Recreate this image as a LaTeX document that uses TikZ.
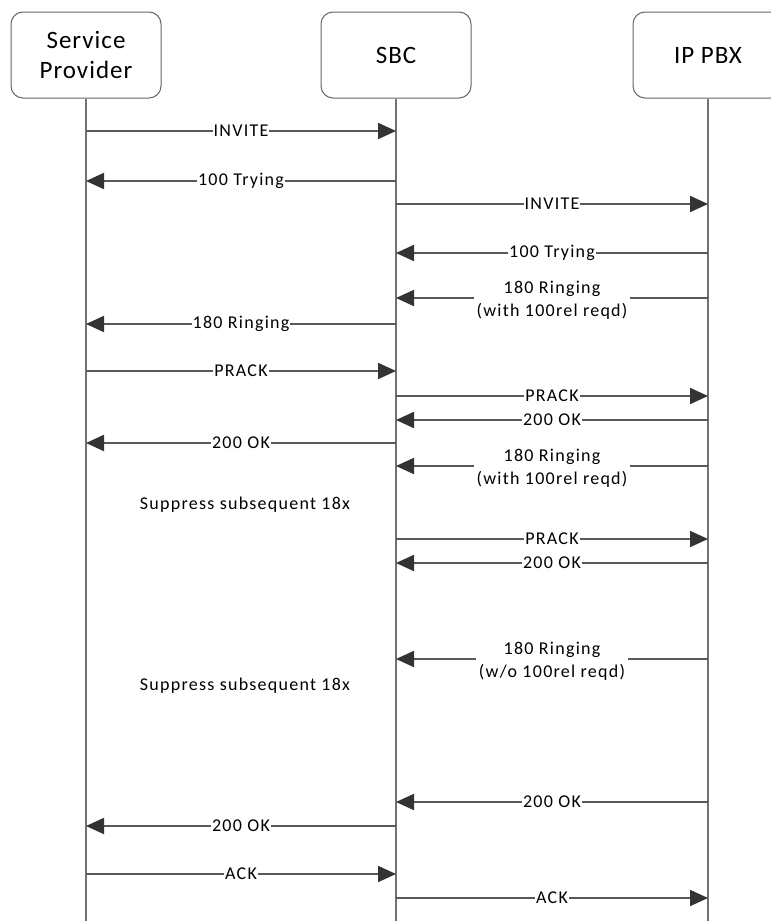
\documentclass[tikz,border=0pt]{standalone}
\usepackage{fontspec}
\setmainfont{Carlito}
\usetikzlibrary{arrows.meta}

\tikzset{
  actor/.style={draw=black!60, line width=1pt, rounded corners=12pt, fill=white,
    minimum width=150pt, minimum height=86pt, align=center,
    font=\fontsize{25}{30}\selectfont\addfontfeatures{LetterSpace=4}},
  lifeline/.style={draw=black!55, line width=2pt},
  msg/.style={draw=black!65, line width=2pt,
    -{Triangle[length=18pt,width=16pt,color=black!80]}},
  lbl/.style={fill=white, inner xsep=1pt, inner ysep=1pt, text=black,
    font=\fontsize{18}{22}\selectfont\addfontfeatures{LetterSpace=7}},
  lbltwo/.style={lbl, align=center, inner xsep=3pt,
    font=\fontsize{18}{23}\selectfont\addfontfeatures{LetterSpace=7}},
  note/.style={font=\fontsize{18}{22}\selectfont\addfontfeatures{LetterSpace=7}}
}

\begin{document}
\begin{tikzpicture}[x=1pt, y=-1pt]
    % --- 画布大小 ---
    \useasboundingbox (0,0) rectangle (771,921);
    \def\yEnd{921}       % 生命线底端

    % --- 参与者 ---
    \node[actor] (sp)  at (86,55)  {Service\\Provider};
    \node[actor] (sbc) at (396,55) {SBC};
    \node[actor] (pbx) at (708,55) {IP PBX};

    % --- 生命线 ---
    \draw[lifeline] (sp.south)  -- (sp.south  |- 0,\yEnd);
    \draw[lifeline] (sbc.south) -- (sbc.south |- 0,\yEnd);
    \draw[lifeline] (pbx.south) -- (pbx.south |- 0,\yEnd);

    % --- 呼叫建立 ---
    \draw[msg] (sp  |- 0,131) -- node[lbl] {INVITE} (sbc |- 0,131);
    \draw[msg] (sbc |- 0,181) -- node[lbl] {100 Trying} (sp |- 0,181);
    \draw[msg] (sbc |- 0,204) -- node[lbl] {INVITE} (pbx |- 0,204);
    \draw[msg] (pbx |- 0,253) -- node[lbl] {100 Trying} (sbc |- 0,253);

    % --- 第一个 18x (需要 100rel) ---
    \draw[msg] (pbx |- 0,298) -- node[lbltwo, yshift=-2pt] {180 Ringing\\(with 100rel reqd)} (sbc |- 0,298);
    \draw[msg] (sbc |- 0,324) -- node[lbl] {180 Ringing} (sp |- 0,324);
    \draw[msg] (sp  |- 0,371) -- node[lbl] {PRACK} (sbc |- 0,371);
    \draw[msg] (sbc |- 0,396) -- node[lbl] {PRACK} (pbx |- 0,396);
    \draw[msg] (pbx |- 0,420) -- node[lbl] {200 OK} (sbc |- 0,420);
    \draw[msg] (sbc |- 0,443) -- node[lbl] {200 OK} (sp |- 0,443);

    % --- 后续 18x 被抑制 ---
    \draw[msg] (pbx |- 0,466) -- node[lbltwo, yshift=-2pt] {180 Ringing\\(with 100rel reqd)} (sbc |- 0,466);
    \node[note] (supone) at (245,505) {Suppress subsequent 18x};
    \draw[msg] (sbc |- 0,539) -- node[lbl] {PRACK} (pbx |- 0,539);
    \draw[msg] (pbx |- 0,563) -- node[lbl] {200 OK} (sbc |- 0,563);

    \draw[msg] (pbx |- 0,659) -- node[lbltwo, yshift=-2pt] {180 Ringing\\(w/o 100rel reqd)} (sbc |- 0,659);
    \node[note] (suptwo) at (245,686) {Suppress subsequent 18x};

    % --- 应答与确认 ---
    \draw[msg] (pbx |- 0,802) -- node[lbl] {200 OK} (sbc |- 0,802);
    \draw[msg] (sbc |- 0,826) -- node[lbl] {200 OK} (sp |- 0,826);
    \draw[msg] (sp  |- 0,874) -- node[lbl] {ACK} (sbc |- 0,874);
    \draw[msg] (sbc |- 0,898) -- node[lbl] {ACK} (pbx |- 0,898);

\end{tikzpicture}
\end{document}
